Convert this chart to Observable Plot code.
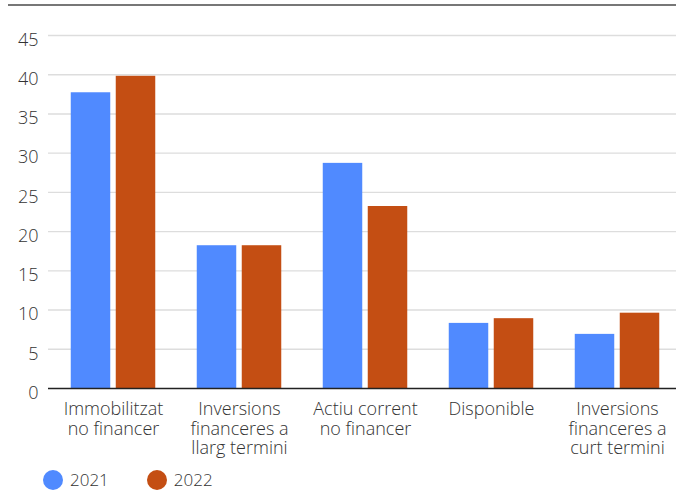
<!DOCTYPE html>
<html><head><meta charset="utf-8">
<script src="https://cdn.jsdelivr.net/npm/d3@7"></script>
<script src="https://cdn.jsdelivr.net/npm/@observablehq/plot@0.6"></script>
<style>
body{margin:0;background:#fff;font-family:"Open Sans",sans-serif;}
#wrap{position:relative;width:676px;height:490px;overflow:hidden;background:#fff}
#topline{position:absolute;left:8px;top:4px;width:668px;height:2px;background:#777}
#chart{position:absolute;left:0;top:0}
#legend{position:absolute;left:43px;top:470px;display:flex;align-items:center;font-size:17px;font-weight:300;color:#333;line-height:20px}
.sw{width:20px;height:20px;border-radius:50%;display:inline-block;margin-right:7px}
.item{display:flex;align-items:center;margin-right:38px}
</style></head><body>
<div id="wrap"><div id="chart"></div><div id="topline"></div><div id="legend"></div></div>
<script>
const categories = ["Immobilitzat no financer", "Inversions financeres a llarg termini", "Actiu corrent no financer", "Disponible", "Inversions financeres a curt termini"];
const categoryLabels = ["Immobilitzat\nno financer", "Inversions\nfinanceres a\nllarg termini", "Actiu corrent\nno financer", "Disponible", "Inversions\nfinanceres a\ncurt termini"];
const years = ["2021", "2022"];
const values2021 = [37.7, 18.2, 28.7, 8.3, 6.9];
const values2022 = [39.8, 18.2, 23.2, 8.9, 9.6];
const yTicks = [0, 5, 10, 15, 20, 25, 30, 35, 40, 45];
const colors = ["#508AFF", "#C44E13"];

const d2021 = categories.map((c, i) => ({category: c, value: values2021[i]}));
const d2022 = categories.map((c, i) => ({category: c, value: values2022[i]}));

const chart = Plot.plot({
  width: 676,
  height: 462,
  marginLeft: 48,
  marginRight: 0,
  marginTop: 35,
  marginBottom: 74,
  style: {fontSize: "18px", fontFamily: "'Open Sans', sans-serif", fontWeight: 300, color: "#333", background: "transparent"},
  x: {domain: categories, range: [48.25, 680.75], padding: 0, axis: null},
  y: {domain: [0, 45], axis: null},
  marks: [
    Plot.ruleY(yTicks.filter(t => t > 0), {stroke: "#dddddd", strokeWidth: 1.4}),
    Plot.barY(d2021, {x: "category", y: "value", fill: colors[0], insetLeft: 20.75, insetRight: 65.75}),
    Plot.barY(d2022, {x: "category", y: "value", fill: colors[1], insetLeft: 65.75, insetRight: 20.75}),
    Plot.ruleY([0], {stroke: "#222", strokeWidth: 1.5}),
    Plot.axisY(yTicks, {label: null, tickSize: 0, tickPadding: 10, dy: 4.5, fill: "#333", fontSize: 18}),
    Plot.text(categories, {x: d => d, text: (d, i) => categoryLabels[i], frameAnchor: "bottom", lineAnchor: "top", dy: 13, lineHeight: 1.08, fill: "#333", fontSize: 18})
  ]
});
document.getElementById("chart").appendChild(chart);

const legend = document.getElementById("legend");
years.forEach((y, i) => {
  const item = document.createElement("div");
  item.className = "item";
  item.innerHTML = `<span class="sw" style="background:${colors[i]}"></span><span>${y}</span>`;
  legend.appendChild(item);
});
</script>
</body></html>
